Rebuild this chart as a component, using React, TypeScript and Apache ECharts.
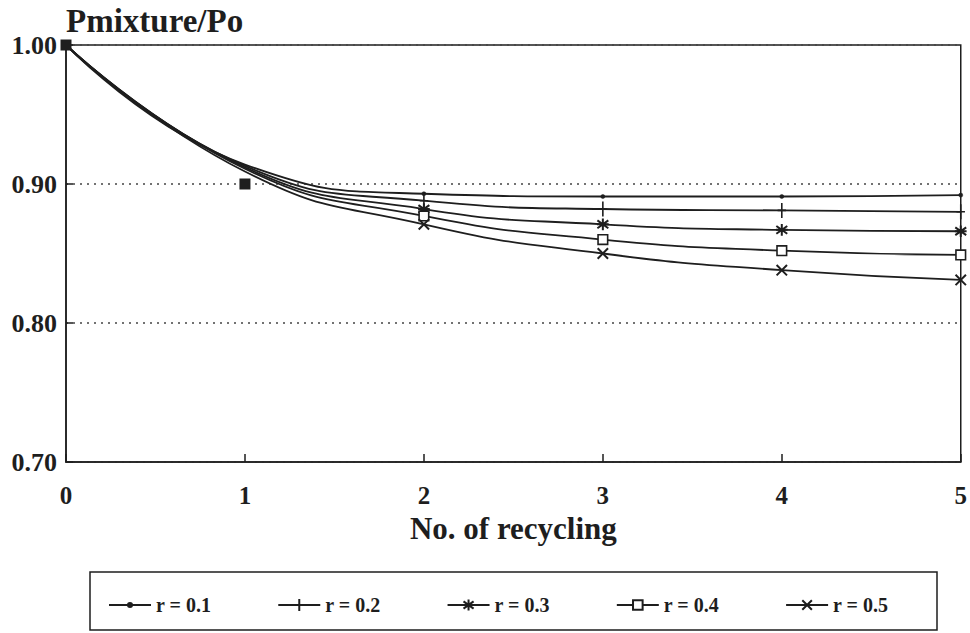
import React, { useEffect, useRef } from "react";
import * as echarts from "echarts";

const recycles = [0, 1, 2, 3, 4, 5];
const seriesNames = ["r = 0.1", "r = 0.2", "r = 0.3", "r = 0.4", "r = 0.5"];
const curveR01 = [1.0, 0.914, 0.893, 0.891, 0.891, 0.892];
const curveR02 = [1.0, 0.913, 0.888, 0.882, 0.881, 0.88];
const curveR03 = [1.0, 0.912, 0.882, 0.871, 0.867, 0.866];
const curveR04 = [1.0, 0.911, 0.877, 0.86, 0.852, 0.849];
const curveR05 = [1.0, 0.909, 0.871, 0.85, 0.838, 0.831];
const measuredX = [0, 1];
const measuredY = [1.0, 0.9];
const xAxisTitle = "No. of recycling";
const yAxisTitle = "Pmixture/Po";

const INK = "#1e1e1e";
const FONT = "Liberation Serif";

// invisible moveTo corners (M0,0 M10,10) keep every glyph inside the same 10x10 box
const BOX = "M0,0M10,10";
const symbols = [
  { symbol: "path://" + BOX + "M5,3.3A1.7,1.7,0,1,1,5,6.7A1.7,1.7,0,1,1,5,3.3Z", size: 12, style: { color: INK, borderColor: INK, borderWidth: 0.5 } },
  { symbol: "path://" + BOX + "M5,0L5,10M2.2,5L7.8,5", size: 15, style: { color: INK, borderColor: INK, borderWidth: 1.6 } },
  { symbol: "path://" + BOX + "M5,0.5L5,9.5M0.8,2L9.2,8M9.2,2L0.8,8M0.5,5L9.5,5", size: 13, style: { color: INK, borderColor: INK, borderWidth: 2 } },
  { symbol: "path://" + BOX + "M1,1L9,1L9,9L1,9Z", size: 12, style: { color: "#fff", borderColor: INK, borderWidth: 1.6 } },
  { symbol: "path://" + BOX + "M1,1L9,9M9,1L1,9", size: 13, style: { color: INK, borderColor: INK, borderWidth: 2 } },
];

export default function App() {
  const ref = useRef<HTMLDivElement>(null);
  useEffect(() => {
    document.body.style.margin = "0";
    if (!ref.current) return;
    const chart = echarts.init(ref.current, undefined, { renderer: "svg" });
    const curves = [curveR01, curveR02, curveR03, curveR04, curveR05];
    const lineSeries = curves.map((c, i) => ({
      name: seriesNames[i],
      type: "line",
      smooth: 0.5,
      symbol: symbols[i].symbol,
      symbolSize: symbols[i].size,
      symbolKeepAspect: true,
      itemStyle: symbols[i].style,
      lineStyle: { color: INK, width: 1.8 },
      data: c.map((v, k) =>
        k < 2 ? { value: [recycles[k], v], symbol: "none" } : { value: [recycles[k], v] }
      ),
      z: 3,
    }));
    chart.setOption({
      animation: false,
      backgroundColor: "#fff",
      grid: { left: 66, right: 8, top: 45, bottom: 171, show: true, borderColor: INK, borderWidth: 1.5 },
      xAxis: {
        type: "value",
        min: 0,
        max: 5,
        interval: 1,
        name: xAxisTitle,
        nameLocation: "middle",
        nameGap: 44,
        nameTextStyle: { fontFamily: FONT, fontWeight: "bold", fontSize: 31, color: INK },
        axisLine: { lineStyle: { color: INK, width: 1.5 } },
        axisTick: { inside: true, length: 8, lineStyle: { color: INK, width: 1.5 } },
        axisLabel: { fontFamily: FONT, fontWeight: "bold", fontSize: 25, color: INK, margin: 21 },
        splitLine: { show: false },
      },
      yAxis: {
        type: "value",
        min: 0.7,
        max: 1.0,
        interval: 0.1,
        name: yAxisTitle,
        nameLocation: "end",
        nameGap: 8,
        nameTextStyle: { fontFamily: FONT, fontWeight: "bold", fontSize: 33, color: INK, align: "left", verticalAlign: "bottom" },
        axisLine: { lineStyle: { color: INK, width: 1.5 } },
        axisTick: { inside: true, length: 7, lineStyle: { color: INK, width: 1.5 } },
        axisLabel: {
          fontFamily: FONT,
          fontWeight: "bold",
          fontSize: 26,
          color: INK,
          margin: 9,
          formatter: (v: number) => v.toFixed(2),
        },
        splitLine: { show: true, lineStyle: { color: "#444", type: [2, 5], width: 1.5 } },
      },
      legend: {
        data: seriesNames,
        left: 103,
        top: 590,
        itemWidth: 42,
        itemHeight: 15,
        itemGap: 66,
        textStyle: { fontFamily: FONT, fontWeight: "bold", fontSize: 20, color: INK },
      },
      graphic: [
        {
          type: "rect",
          shape: { x: 90, y: 572, width: 847, height: 58 },
          style: { fill: "none", stroke: INK, lineWidth: 1.5 },
        },
      ],
      series: [
        ...lineSeries,
        {
          name: "measured",
          type: "scatter",
          symbol: "rect",
          symbolSize: 11,
          itemStyle: { color: INK, opacity: 1 },
          data: measuredX.map((x, k) => [x, measuredY[k]]),
          z: 4,
        },
      ],
    });
    return () => chart.dispose();
  }, []);
  return <div ref={ref} style={{ width: 970, height: 633 }} />;
}
